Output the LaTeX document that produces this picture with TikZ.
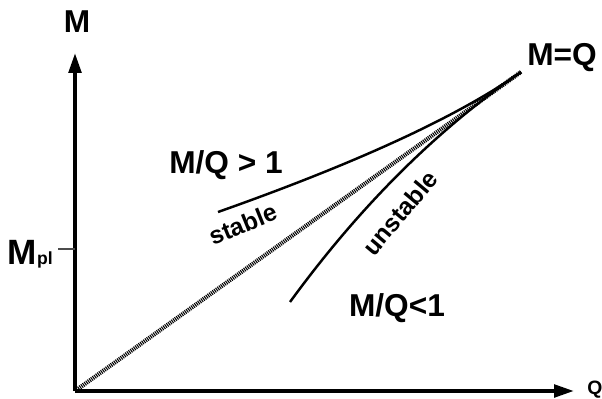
\documentclass[tikz,border=0pt]{standalone}
\usepackage{fontspec}
\setmainfont{Liberation Sans}
\usepackage{tikz}
\usetikzlibrary{arrows.meta,positioning}

\tikzset{
  axis/.style={line width=2.2pt,-{Triangle[length=0.4cm,width=0.25cm]}},
  curve/.style={line width=1.4pt},
  hatch/.style={line width=2.4pt,dash pattern=on 0.6pt off 0.55pt},
  big/.style={font=\bfseries\fontsize{18}{20}\selectfont},
  small/.style={font=\bfseries\fontsize{14}{15}\selectfont}
}

\begin{document}
\begin{tikzpicture}
  \useasboundingbox (-1.5,-0.14) rectangle (10.54,7.82);
  \coordinate (O) at (0,0);
  \coordinate (mtop) at (0,6.76);
  \coordinate (qend) at (9.98,0);
  \coordinate (tip) at (8.92,6.38);
  \coordinate (s0) at (2.86,3.58);
  \coordinate (u0) at (4.3,1.78);
  \coordinate (mpl) at (0,2.84);
  \coordinate (tick) at (-0.34,2.84);
  % axes
  \draw[axis] (O) -- (mtop);
  \draw[axis] (O) -- (qend);
  \node[big] (mlab) at (0.04,7.38) {M};
  \node[font=\bfseries\fontsize{11}{12}\selectfont] (qlab) at (10.4,0.02) {Q};
  \draw[gray!60!black,line width=0.8pt] (tick) -- (mpl);
  \node[anchor=base east,inner sep=0pt,font=\bfseries\fontsize{20}{22}\selectfont] (mpllab) at (-0.44,2.54)
    {M{\fontsize{10}{11}\selectfont pl}};
  % M=Q line and the two branches
  \draw[hatch] (O) -- (tip);
  \draw[curve] (s0) .. controls (5.66,4.57) and (7.68,5.50) .. (tip);
  \draw[curve] (u0) .. controls (5.7,3.70) and (7.24,5.23) .. (tip);
  \node[big] (eq) at (9.74,6.66) {M=Q};
  \node[big] (gt) at (3.02,4.52) {M/Q > 1};
  \node[big] (lt) at (6.44,1.66) {M/Q<1};
  \node[small,rotate=22] (st) at (3.36,3.34) {stable};
  \node[small,rotate=50] (unst) at (6.5,3.56) {unstable};
\end{tikzpicture}
\end{document}
